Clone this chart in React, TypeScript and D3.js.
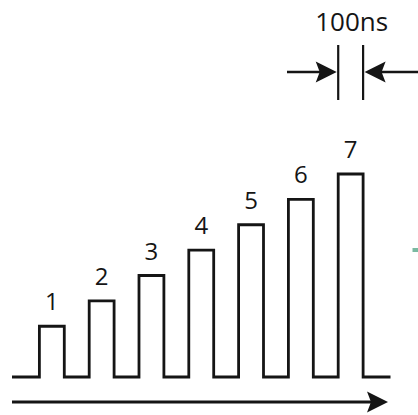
import React from "react";
import * as d3 from "d3";

// Pulse train data (time in ns, amplitude in relative units)
const pulseLabels = ["1", "2", "3", "4", "5", "6", "7"];
const pulseStarts = [110, 310, 510, 710, 910, 1110, 1310];
const pulseWidth = 100;
const pulseAmplitudes = [2, 3, 4, 5, 6, 7, 8];
const timeDomain = [0, 1520];
const ampDomain = [0, 8];
const widthLabel = "100ns";

const W = 418;
const H = 415;
const INK = "#151515";
const FONT = "'Open Sans', 'DejaVu Sans', sans-serif";

export default function App() {
  const x = d3.scaleLinear().domain(timeDomain).range([12, 390.5]);
  const y = d3.scaleLinear().domain(ampDomain).range([377, 174]);

  const pts: [number, number][] = [[timeDomain[0], 0]];
  pulseStarts.forEach((s, i) => {
    const a = pulseAmplitudes[i];
    pts.push([s, 0], [s, a], [s + pulseWidth, a], [s + pulseWidth, 0]);
  });
  pts.push([timeDomain[1], 0]);

  const line = d3
    .line<[number, number]>()
    .x((d) => x(d[0]))
    .y((d) => y(d[1]));

  const last = pulseStarts.length - 1;
  const mL = x(pulseStarts[last]);
  const mR = x(pulseStarts[last] + pulseWidth);
  const arrowY = 72;
  const axisY = 402;

  const head = (tipX: number, tipY: number, dir: number, len = 21, half = 10.5) =>
    `M${tipX},${tipY} L${tipX - dir * len},${tipY - half} L${tipX - dir * (len - 4)},${tipY} L${tipX - dir * len},${tipY + half} Z`;

  return (
    <svg
      width={W}
      height={H}
      style={{ position: "absolute", left: 0, top: 0, background: "#fff" }}
    >
      <rect width={W} height={H} fill="#fff" />
      <path
        d={line(pts) || ""}
        fill="none"
        stroke={INK}
        strokeWidth={2.8}
        strokeLinejoin="miter"
      />
      {pulseLabels.map((lab, i) => (
        <text
          key={lab}
          x={x(pulseStarts[i] + pulseWidth / 2)}
          y={y(pulseAmplitudes[i]) - 16}
          textAnchor="middle"
          fontFamily={FONT}
          fontSize={24}
          fill={INK}
        >
          {lab}
        </text>
      ))}
      {/* time axis arrow */}
      <line
        x1={x(timeDomain[0])}
        x2={x(1480)}
        y1={axisY}
        y2={axisY}
        stroke={INK}
        strokeWidth={3}
      />
      <path d={head(388, axisY, 1)} fill={INK} />

      {/* 100ns width annotation */}
      <text
        x={(mL + mR) / 2 + 1}
        y={31}
        textAnchor="middle"
        fontFamily={FONT}
        fontSize={26}
        fill={INK}
      >
        {widthLabel}
      </text>
      <line x1={mL} x2={mL} y1={45} y2={100} stroke={INK} strokeWidth={2.2} />
      <line x1={mR} x2={mR} y1={45} y2={100} stroke={INK} strokeWidth={2.2} />
      <line x1={287} x2={mL - 10} y1={arrowY} y2={arrowY} stroke={INK} strokeWidth={2.6} />
      <path d={head(mL - 1.5, arrowY, 1, 21, 10.5)} fill={INK} />
      <line x1={418} x2={mR + 10} y1={arrowY} y2={arrowY} stroke={INK} strokeWidth={2.6} />
      <path d={head(mR + 1.5, arrowY, -1, 21, 10.5)} fill={INK} />

      {/* cut-off green mark at right edge */}
      <rect x={412.5} y={248} width={6} height={4} fill="#5aa88a" opacity={0.8} />
    </svg>
  );
}
